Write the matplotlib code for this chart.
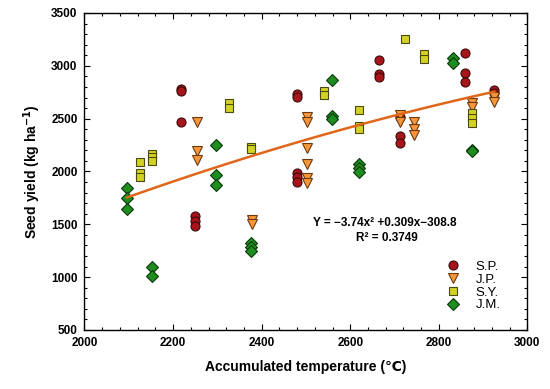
import numpy as np
import matplotlib
matplotlib.use("Agg")
import matplotlib.pyplot as plt
from matplotlib.ticker import MultipleLocator

plt.rcParams['font.family'] = ['Liberation Sans', 'DejaVu Sans']

# S.P.
sp_x = [2217, 2217, 2217, 2250, 2250, 2250, 2480, 2480, 2480, 2480, 2480,
        2664, 2664, 2664, 2712, 2712, 2712, 2860, 2860, 2860, 2924, 2924]
sp_y = [2780, 2765, 2471, 1578, 1534, 1487, 2733, 2702, 1988, 1944, 1903,
        3054, 2922, 2896, 2520, 2335, 2272, 3118, 2929, 2849, 2771, 2739]
# J.P.
jp_x = [2254, 2254, 2254, 2379, 2379, 2503, 2503, 2503, 2503, 2503, 2503,
        2712, 2712, 2743, 2743, 2743, 2874, 2874, 2924, 2924]
jp_y = [2471, 2196, 2108, 1541, 1503, 2518, 2465, 2219, 2067, 1935, 1888,
        2534, 2471, 2471, 2399, 2345, 2651, 2613, 2707, 2660]
# S.Y.
sy_x = [2125, 2125, 2125, 2152, 2152, 2152, 2326, 2326, 2375, 2375,
        2540, 2540, 2620, 2620, 2620, 2723, 2766, 2766, 2874, 2874, 2874]
sy_y = [2092, 1982, 1950, 2170, 2140, 2100, 2645, 2600, 2234, 2215,
        2764, 2720, 2581, 2430, 2405, 3253, 3111, 3064, 2550, 2503, 2461]
# J.M.
jm_x = [2096, 2096, 2096, 2152, 2152, 2296, 2296, 2296, 2375, 2375, 2375,
        2559, 2559, 2559, 2620, 2620, 2620, 2832, 2832, 2874, 2874]
jm_y = [1840, 1752, 1645, 1099, 1011, 2250, 1966, 1872, 1320, 1282, 1250,
        2865, 2525, 2493, 2067, 2030, 1998, 3070, 3023, 2203, 2190]

# quadratic trend as drawn in the figure, in u = x - 2100
fit_range = (2096, 2925)
fit_c0, fit_c1, fit_c2 = 1760.0, 1.4855, -0.0003387

fig = plt.figure(figsize=(5.5, 3.89), dpi=100)
ax = fig.add_axes([0.1536, 0.1517, 0.8054, 0.8149])

ms = 6.5
ax.plot(sp_x, sp_y, 'o', ms=ms, mfc='#A8141A', mec='#3a0a0a', mew=0.8, label='S.P.', zorder=3)
ax.plot(jp_x, jp_y, 'v', ms=ms, mfc='#F7963A', mec='#6a3a10', mew=0.8, label='J.P.', zorder=3)
ax.plot(sy_x, sy_y, 's', ms=ms - 0.5, mfc='#D2D225', mec='#4a4a10', mew=0.8, label='S.Y.', zorder=3)
ax.plot(jm_x, jm_y, 'D', ms=ms - 0.7, mfc='#1F8C1F', mec='#0a3a0a', mew=0.8, label='J.M.', zorder=3)

xf = np.linspace(fit_range[0], fit_range[1], 100)
u = xf - 2100
ax.plot(xf, fit_c0 + fit_c1 * u + fit_c2 * u ** 2, color='#E0661A', lw=1.8, zorder=4)

ax.text(2677, 1512, 'Y = \u22123.74x\u00b2 +0.309x\u2212308.8',
        ha='center', va='center', fontsize=8.5, fontweight='bold')
ax.text(2683, 1370, 'R\u00b2 = 0.3749', ha='center', va='center',
        fontsize=8.5, fontweight='bold')

ax.set_xlim(2000, 3000)
ax.set_ylim(500, 3500)
ax.xaxis.set_major_locator(MultipleLocator(200))
ax.xaxis.set_minor_locator(MultipleLocator(40))
ax.yaxis.set_major_locator(MultipleLocator(500))
ax.yaxis.set_minor_locator(MultipleLocator(100))
ax.tick_params(which='both', direction='in', top=True, right=True, width=0.8)
ax.tick_params(which='major', length=4, labelsize=8.5, pad=5)
ax.tick_params(which='minor', length=2.5)
for lab in ax.get_xticklabels() + ax.get_yticklabels():
    lab.set_fontweight('bold')
for s in ax.spines.values():
    s.set_linewidth(1.0)

ax.set_xlabel('Accumulated temperature (\u2103)', fontsize=10, fontweight='bold', labelpad=8)
ax.set_ylabel('Seed yield (kg ha$^{\\mathbf{-1}}$)', fontsize=10, fontweight='bold', labelpad=6)

ax.legend(loc='upper right', bbox_to_anchor=(0.955, 0.24), frameon=False,
          fontsize=9.5, handletextpad=1.1, labelspacing=0.05, borderpad=0,
          handlelength=1.2)

fig.savefig('out.png', dpi=100)
